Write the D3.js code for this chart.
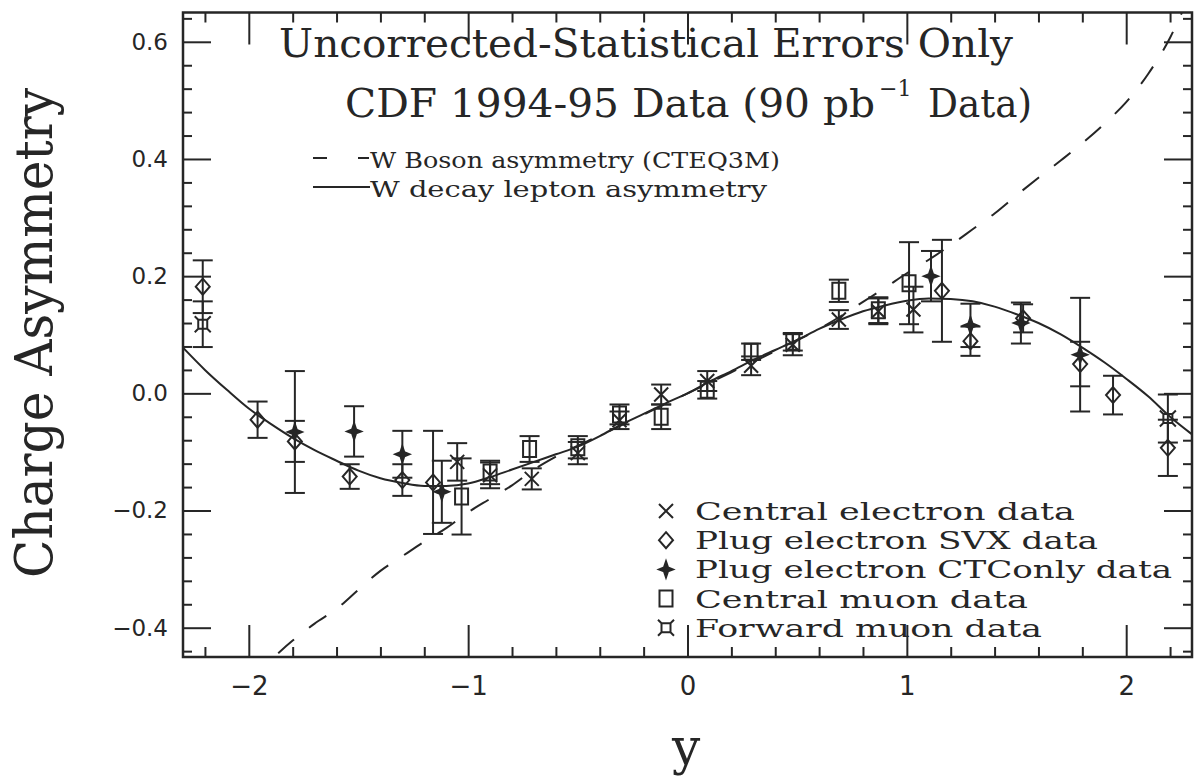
<!DOCTYPE html>
<html>
<head>
<meta charset="utf-8">
<script src="https://cdn.jsdelivr.net/npm/d3@7"></script>
<style>
body { margin: 0; background: #fff; }
text { fill: #262626; }
</style>
</head>
<body>
<div id="chart"></div>
<script>
// axis ticks
var xTicks = [-2, -1, 0, 1, 2];
var yTicks = [-0.4, -0.2, 0.0, 0.2, 0.4, 0.6];

// W decay lepton asymmetry (solid)
var leptonX = [-2.3,-2.2,-2.1,-2.0,-1.9,-1.8,-1.7,-1.6,-1.5,-1.4,-1.3,-1.2,-1.1,-1.0,-0.9,-0.8,-0.7,-0.6,-0.5,-0.4,-0.3,-0.2,-0.1,0,0.1,0.2,0.3,0.4,0.5,0.6,0.7,0.8,0.9,1.0,1.1,1.2,1.3,1.4,1.5,1.6,1.7,1.8,1.9,2.0,2.1,2.2,2.3];
var leptonA = [0.078,0.040,0.006,-0.026,-0.052,-0.076,-0.097,-0.115,-0.132,-0.145,-0.153,-0.158,-0.158,-0.154,-0.143,-0.130,-0.117,-0.104,-0.091,-0.073,-0.053,-0.035,-0.017,0.0,0.020,0.038,0.057,0.074,0.091,0.110,0.126,0.140,0.150,0.158,0.162,0.161,0.157,0.148,0.135,0.120,0.101,0.078,0.053,0.025,-0.005,-0.040,-0.070];

// W boson asymmetry CTEQ3M (dashed)
var bosonX = [-2.0,-1.9,-1.8,-1.7,-1.6,-1.5,-1.4,-1.3,-1.2,-1.1,-1.0,-0.9,-0.8,-0.7,-0.6,-0.4,-0.2,0,0.2,0.4,0.6,0.7,0.8,0.9,1.0,1.1,1.2,1.3,1.4,1.5,1.6,1.7,1.8,1.9,2.0,2.1,2.2,2.3];
var bosonA = [-0.49,-0.455,-0.422,-0.393,-0.368,-0.335,-0.303,-0.278,-0.253,-0.23,-0.203,-0.18,-0.157,-0.13,-0.108,-0.072,-0.036,0,0.036,0.072,0.11,0.132,0.156,0.18,0.205,0.228,0.253,0.28,0.307,0.338,0.368,0.397,0.427,0.46,0.497,0.545,0.607,0.69];

// Central electron data
var ceX = [-1.05,-0.90,-0.71,-0.50,-0.31,-0.12,0.09,0.29,0.48,0.69,0.87,1.03];
var ceA = [-0.117,-0.140,-0.146,-0.102,-0.046,-0.002,0.021,0.047,0.083,0.126,0.140,0.143];
var ceErr = [0.032,0.022,0.018,0.019,0.015,0.017,0.017,0.016,0.018,0.016,0.022,0.039];

// Plug electron SVX data
var svxX = [-2.21,-1.96,-1.79,-1.54,-1.30,-1.16,1.16,1.29,1.53,1.79,1.94,2.19];
var svxA = [0.182,-0.045,-0.082,-0.142,-0.148,-0.152,0.175,0.089,0.128,0.050,-0.003,-0.093];
var svxErr = [0.045,0.031,0.035,0.021,0.027,0.088,0.087,0.025,0.024,0.038,0.033,0.048];

// Plug electron CTC-only data
var ctcX = [-1.79,-1.52,-1.30,-1.12,1.11,1.29,1.52,1.79];
var ctcA = [-0.066,-0.065,-0.104,-0.168,0.200,0.116,0.120,0.066];
var ctcErr = [0.104,0.043,0.040,0.053,0.043,0.037,0.035,0.097];

// Central muon data
var cmuX = [-1.03,-0.90,-0.72,-0.50,-0.31,-0.12,0.09,0.29,0.48,0.69,0.87,1.01];
var cmuA = [-0.176,-0.135,-0.095,-0.092,-0.036,-0.040,0.006,0.071,0.088,0.175,0.142,0.188];
var cmuErr = [0.065,0.020,0.022,0.019,0.017,0.021,0.015,0.014,0.015,0.019,0.022,0.070];

// Forward muon data
var fmuX = [-2.21, 2.19];
var fmuA = [0.118, -0.043];
var fmuErr = [0.039, 0.041];

var legendNames = ["Central electron data", "Plug electron SVX data", "Plug electron CTConly data", "Central muon data", "Forward muon data"];
var legendTypes = ["cross", "diamond", "star", "square", "fmu"];
var legendWidths = [380, 403, 477, 333, 347];

var ink = "#262626";
var serif = "DejaVu Serif";

var svg = d3.select("#chart").append("svg")
    .attr("width", 1196)
    .attr("height", 776);

var x = d3.scaleLinear().domain([-2.3, 2.3]).range([183, 1192]);
var y = d3.scaleLinear().domain([-0.45, 0.65]).range([657, 12.5]);

svg.append("clipPath").attr("id", "plotClip")
  .append("rect")
    .attr("x", x(-2.3)).attr("y", y(0.65))
    .attr("width", x(2.3) - x(-2.3)).attr("height", y(-0.45) - y(0.65));

// axes: major + minor on all four sides
var xMinor = d3.range(-22, 23, 2).map(function(d) { return d / 10; }).filter(function(d) { return Math.abs(d % 1) > 0.01; });
var yMinor = d3.range(-44, 65, 4).map(function(d) { return d / 100; }).filter(function(d) { return Math.abs((d * 100) % 20) > 0.5; });

function styleAxis(g) {
  g.select(".domain").remove();
  g.selectAll(".tick line").attr("stroke", ink).attr("stroke-width", 2);
  g.selectAll(".tick text").attr("fill", ink);
}

svg.append("g").attr("transform", "translate(0," + y(-0.45) + ")")
    .call(d3.axisBottom(x).tickValues(xTicks).tickSize(-32).tickPadding(20).tickFormat(d3.format("d")))
    .call(styleAxis)
    .selectAll("text").style("font-family", "DejaVu Sans").style("font-size", "26px");
svg.append("g").attr("transform", "translate(0," + y(-0.45) + ")")
    .call(d3.axisBottom(x).tickValues(xMinor).tickSize(-10).tickFormat(""))
    .call(styleAxis);
svg.append("g").attr("transform", "translate(0," + y(0.65) + ")")
    .call(d3.axisTop(x).tickValues(xTicks).tickSize(-32).tickFormat(""))
    .call(styleAxis);
svg.append("g").attr("transform", "translate(0," + y(0.65) + ")")
    .call(d3.axisTop(x).tickValues(xMinor).tickSize(-10).tickFormat(""))
    .call(styleAxis);

svg.append("g").attr("transform", "translate(" + x(-2.3) + ",0)")
    .call(d3.axisLeft(y).tickValues(yTicks).tickSize(-28).tickPadding(15).tickFormat(d3.format(".1f")))
    .call(styleAxis)
    .selectAll("text").style("font-family", "DejaVu Sans").style("font-size", "23px");
svg.append("g").attr("transform", "translate(" + x(-2.3) + ",0)")
    .call(d3.axisLeft(y).tickValues(yMinor).tickSize(-9).tickFormat(""))
    .call(styleAxis);
svg.append("g").attr("transform", "translate(" + x(2.3) + ",0)")
    .call(d3.axisRight(y).tickValues(yTicks).tickSize(-28).tickFormat(""))
    .call(styleAxis);
svg.append("g").attr("transform", "translate(" + x(2.3) + ",0)")
    .call(d3.axisRight(y).tickValues(yMinor).tickSize(-9).tickFormat(""))
    .call(styleAxis);

svg.append("rect")
    .attr("x", x(-2.3)).attr("y", y(0.65))
    .attr("width", x(2.3) - x(-2.3)).attr("height", y(-0.45) - y(0.65))
    .attr("fill", "none").attr("stroke", ink).attr("stroke-width", 2.5);

// theory curves
var line = d3.line()
    .x(function(d) { return x(d[0]); })
    .y(function(d) { return y(d[1]); })
    .curve(d3.curveMonotoneX);

var curves = svg.append("g").attr("clip-path", "url(#plotClip)");
curves.append("path")
    .datum(d3.zip(bosonX, bosonA))
    .attr("d", line)
    .attr("fill", "none").attr("stroke", ink).attr("stroke-width", 2)
    .attr("stroke-dasharray", "21,19");
curves.append("path")
    .datum(d3.zip(leptonX, leptonA))
    .attr("d", line)
    .attr("fill", "none").attr("stroke", ink).attr("stroke-width", 2);

// marker shapes
function symbolPath(type) {
  if (type == "cross") return "M-7,-7L7,7M-7,7L7,-7";
  if (type == "diamond") return "M0,-8L7,0L0,8L-7,0Z";
  if (type == "star") return "M0,-8L2,-2L7,0L2,2L0,8L-2,2L-7,0L-2,-2Z";
  if (type == "square") return "M-6.5,-8H6.5V8H-6.5Z";
  return "M-8,-8L-4.5,-4.5H4.5L8,-8M-8,8L-4.5,4.5H4.5L8,8M-4.5,-4.5V4.5M4.5,-4.5V4.5";
}

function drawSeries(xs, as, errs, type) {
  var g = svg.append("g");
  var pts = d3.range(xs.length).map(function(i) { return [xs[i], as[i], errs[i]]; });
  var bars = g.selectAll(".bar").data(pts).enter().append("g");
  bars.append("line")
      .attr("x1", function(d) { return x(d[0]); }).attr("x2", function(d) { return x(d[0]); })
      .attr("y1", function(d) { return y(d[1] + d[2]); }).attr("y2", function(d) { return y(d[1] - d[2]); });
  bars.append("line")
      .attr("x1", function(d) { return x(d[0]) - 10; }).attr("x2", function(d) { return x(d[0]) + 10; })
      .attr("y1", function(d) { return y(d[1] + d[2]); }).attr("y2", function(d) { return y(d[1] + d[2]); });
  bars.append("line")
      .attr("x1", function(d) { return x(d[0]) - 10; }).attr("x2", function(d) { return x(d[0]) + 10; })
      .attr("y1", function(d) { return y(d[1] - d[2]); }).attr("y2", function(d) { return y(d[1] - d[2]); });
  bars.selectAll("line").attr("stroke", ink).attr("stroke-width", 2);
  bars.append("path")
      .attr("transform", function(d) { return "translate(" + x(d[0]) + "," + y(d[1]) + ")"; })
      .attr("d", symbolPath(type))
      .attr("fill", type == "star" ? ink : "none")
      .attr("stroke", ink).attr("stroke-width", 2);
}

drawSeries(svxX, svxA, svxErr, "diamond");
drawSeries(ctcX, ctcA, ctcErr, "star");
drawSeries(cmuX, cmuA, cmuErr, "square");
drawSeries(ceX, ceA, ceErr, "cross");
drawSeries(fmuX, fmuA, fmuErr, "fmu");

// titles
svg.append("text").attr("x", 279).attr("y", 57)
    .attr("textLength", 734).attr("lengthAdjust", "spacingAndGlyphs")
    .style("font-family", serif).style("font-size", "39px")
    .text("Uncorrected-Statistical Errors Only");
svg.append("text").attr("x", 345).attr("y", 117)
    .attr("textLength", 530).attr("lengthAdjust", "spacingAndGlyphs")
    .style("font-family", serif).style("font-size", "40px")
    .text("CDF 1994-95 Data (90 pb");
svg.append("text").attr("x", 879).attr("y", 96)
    .style("font-family", serif).style("font-size", "22px")
    .text("\u22121");
svg.append("text").attr("x", 928).attr("y", 117)
    .attr("textLength", 104).attr("lengthAdjust", "spacingAndGlyphs")
    .style("font-family", serif).style("font-size", "40px")
    .text("Data)");

// curve legend
svg.append("line").attr("x1", 313).attr("x2", 369).attr("y1", 158).attr("y2", 158)
    .attr("stroke", ink).attr("stroke-width", 2).attr("stroke-dasharray", "14,31,11");
svg.append("text").attr("x", 370).attr("y", 168)
    .attr("textLength", 410).attr("lengthAdjust", "spacingAndGlyphs")
    .style("font-family", serif).style("font-size", "23px")
    .text("W Boson asymmetry (CTEQ3M)");
svg.append("line").attr("x1", 313).attr("x2", 370).attr("y1", 187).attr("y2", 187)
    .attr("stroke", ink).attr("stroke-width", 2);
svg.append("text").attr("x", 370).attr("y", 197)
    .attr("textLength", 397).attr("lengthAdjust", "spacingAndGlyphs")
    .style("font-family", serif).style("font-size", "23px")
    .text("W decay lepton asymmetry");

// data legend
var leg = svg.append("g").selectAll("g").data(legendNames).enter().append("g")
    .attr("transform", function(d, i) { return "translate(666," + (511 + i * 29.2) + ")"; });
leg.append("path")
    .attr("d", function(d, i) { return symbolPath(legendTypes[i]); })
    .attr("fill", function(d, i) { return legendTypes[i] == "star" ? ink : "none"; })
    .attr("stroke", ink).attr("stroke-width", 2);
leg.append("text").attr("x", 29).attr("y", 9)
    .attr("textLength", function(d, i) { return legendWidths[i]; })
    .attr("lengthAdjust", "spacingAndGlyphs")
    .style("font-family", serif).style("font-size", "25px")
    .text(function(d) { return d; });

// axis titles
svg.append("text")
    .attr("transform", "translate(52,333) rotate(-90)")
    .attr("text-anchor", "middle")
    .attr("textLength", 490).attr("lengthAdjust", "spacingAndGlyphs")
    .style("font-family", serif).style("font-size", "52px")
    .text("Charge Asymmetry");
svg.append("text")
    .attr("x", 686).attr("y", 764)
    .attr("text-anchor", "middle")
    .style("font-family", serif).style("font-size", "50px")
    .text("y");
</script>
</body>
</html>
